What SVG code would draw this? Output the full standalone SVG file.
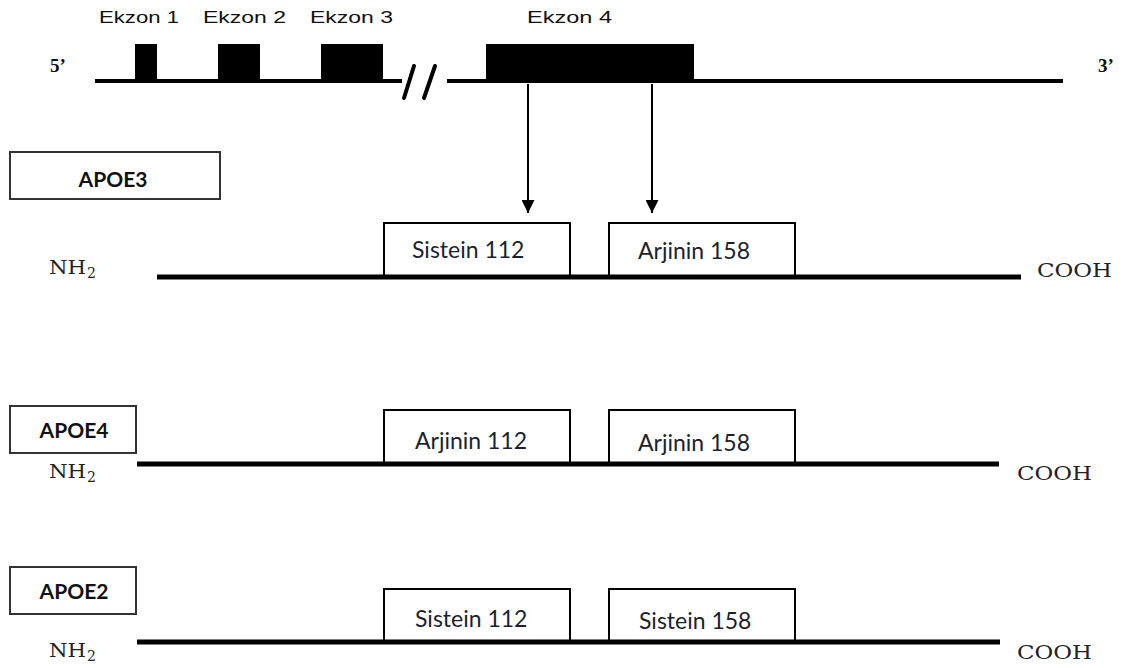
<svg xmlns="http://www.w3.org/2000/svg" width="1133" height="668" viewBox="0 0 1133 668">
<defs>
<style>
.bg{fill:#ffffff}
.gene{stroke:#000;stroke-width:4;fill:none}
.exon{fill:#000}
.slash{stroke:#000;stroke-width:4;stroke-linecap:round}
.ex{font-family:"Liberation Sans",Arial,sans-serif;font-size:17px;fill:#111}
.end{font-family:"Liberation Serif","Times New Roman",serif;font-size:19px;font-weight:bold;fill:#111}
.chem{font-family:"DejaVu Serif","Liberation Serif",serif;font-size:18px;fill:#222}
.sub{font-size:14px}
.prot{stroke:#000;stroke-width:5;fill:none}
.dom{fill:#fff;stroke:#000;stroke-width:2}
.domt{font-family:Lato,"Open Sans",sans-serif;font-size:23px;fill:#1c1f2e}
.lbl{fill:#fff;stroke:#333;stroke-width:2}
.lblt{font-family:Lato,"Open Sans",sans-serif;font-size:21px;font-weight:bold;fill:#111;text-anchor:middle}
.arr{stroke:#000;stroke-width:2;fill:none}
</style>
<marker id="ah" markerWidth="13" markerHeight="13" refX="12" refY="6" orient="auto" markerUnits="userSpaceOnUse" viewBox="0 0 12 12">
<path d="M0,0 L12,6 L0,12 Z" fill="#000"/>
</marker>
</defs>
<rect class="bg" x="0" y="0" width="1133" height="668"/>

<g id="gene">
<line class="gene" x1="95" y1="81" x2="402" y2="81"/>
<line class="gene" x1="447" y1="81" x2="1063" y2="81"/>
<rect class="exon" x="135" y="44" width="22" height="39"/>
<rect class="exon" x="218" y="44" width="42" height="39"/>
<rect class="exon" x="321" y="44" width="62" height="39"/>
<rect class="exon" x="486" y="44" width="208" height="39"/>
<line class="slash" x1="404" y1="98" x2="414" y2="66"/>
<line class="slash" x1="424" y1="98" x2="435" y2="66"/>
<text class="ex" x="99" y="23" textLength="80" lengthAdjust="spacingAndGlyphs">Ekzon 1</text>
<text class="ex" x="203" y="23" textLength="83" lengthAdjust="spacingAndGlyphs">Ekzon 2</text>
<text class="ex" x="310" y="23" textLength="83" lengthAdjust="spacingAndGlyphs">Ekzon 3</text>
<text class="ex" x="527" y="23" textLength="85" lengthAdjust="spacingAndGlyphs">Ekzon 4</text>
<text class="end" x="50" y="72">5’</text>
<text class="end" x="1098" y="72">3’</text>
</g>

<g id="connectors">
<line class="arr" x1="528" y1="84" x2="528" y2="213" marker-end="url(#ah)"/>
<line class="arr" x1="652" y1="84" x2="652" y2="213" marker-end="url(#ah)"/>
</g>

<g id="apoe3">
<rect class="lbl" x="10" y="152" width="210" height="47"/>
<text class="lblt" x="113" y="187">APOE3</text>
<rect class="dom" x="384" y="223" width="186" height="54"/>
<rect class="dom" x="609" y="223" width="186" height="54"/>
<line class="prot" x1="157" y1="277" x2="1021" y2="277"/>
<text class="domt" x="412" y="258">Sistein 112</text>
<text class="domt" x="638" y="259">Arjinin 158</text>
<text class="chem" x="49" y="274" textLength="37" lengthAdjust="spacingAndGlyphs">NH</text><text class="chem sub" x="87" y="278">2</text>
<text class="chem" x="1037" y="277" textLength="75" lengthAdjust="spacingAndGlyphs">COOH</text>
</g>

<g id="apoe4">
<rect class="lbl" x="10" y="406" width="126" height="47"/>
<text class="lblt" x="74" y="438">APOE4</text>
<rect class="dom" x="384" y="410" width="186" height="54"/>
<rect class="dom" x="609" y="410" width="186" height="54"/>
<line class="prot" x1="137" y1="464" x2="999" y2="464"/>
<text class="domt" x="415" y="449">Arjinin 112</text>
<text class="domt" x="638" y="451">Arjinin 158</text>
<text class="chem" x="49" y="478" textLength="37" lengthAdjust="spacingAndGlyphs">NH</text><text class="chem sub" x="87" y="482">2</text>
<text class="chem" x="1017" y="480" textLength="75" lengthAdjust="spacingAndGlyphs">COOH</text>
</g>

<g id="apoe2">
<rect class="lbl" x="10" y="567" width="126" height="47"/>
<text class="lblt" x="74" y="599">APOE2</text>
<rect class="dom" x="384" y="589" width="186" height="53"/>
<rect class="dom" x="609" y="589" width="186" height="53"/>
<line class="prot" x1="137" y1="642" x2="1000" y2="642"/>
<text class="domt" x="415" y="627">Sistein 112</text>
<text class="domt" x="639" y="629">Sistein 158</text>
<text class="chem" x="49" y="657" textLength="37" lengthAdjust="spacingAndGlyphs">NH</text><text class="chem sub" x="87" y="661">2</text>
<text class="chem" x="1017" y="659" textLength="75" lengthAdjust="spacingAndGlyphs">COOH</text>
</g>
</svg>
